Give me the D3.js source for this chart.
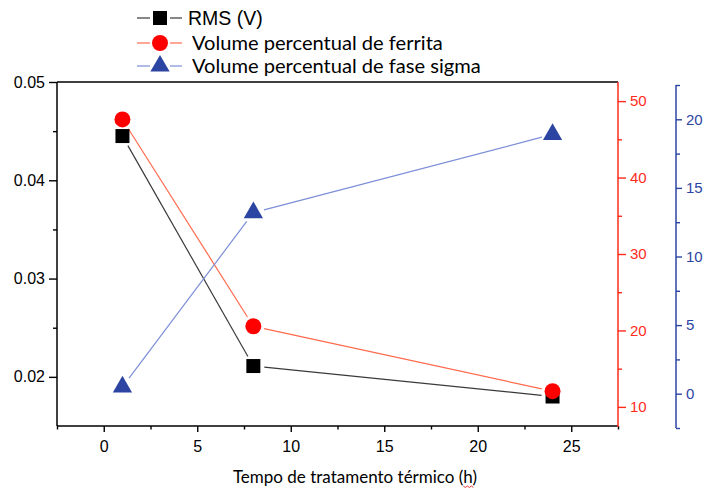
<!DOCTYPE html>
<html>
<head>
<meta charset="utf-8">
<script src="https://cdn.jsdelivr.net/npm/d3@7"></script>
<style>
  html, body { margin: 0; padding: 0; background: #fff; }
  svg { display: block; }
</style>
</head>
<body>
<svg id="chart" width="709" height="489"></svg>
<script>
// Heat-treatment time (h)
const hours = [1, 8, 24];
// RMS signal (V) - left axis
const rms = [0.0445, 0.0211, 0.0180];
// Ferrite volume fraction (%) - first right axis
const ferrite = [47.6, 20.55, 12.05];
// Sigma phase volume fraction (%) - second right axis
const sigma = [0.5, 13.2, 18.9];

const xTicks = [0, 5, 10, 15, 20, 25];
const rmsTicks = [0.02, 0.03, 0.04, 0.05];
const ferriteTicks = [10, 20, 30, 40, 50];
const sigmaTicks = [0, 5, 10, 15, 20];

const legendLabels = ["RMS (V)", "Volume percentual de ferrita", "Volume percentual de fase sigma"];
const xTitle = "Tempo de tratamento térmico (h)";

(function draw() {
  const svg = d3.select("#chart");
  const pL = 57, pR = 618, pT = 82, pB = 426;

  const x = d3.scaleLinear().domain([-2.5, 27.5]).range([pL, pR]);
  const yRms = d3.scaleLinear().domain([0.015, 0.05]).range([pB, pT]);
  const yFer = d3.scaleLinear().domain([7.5, 52.5]).range([pB, pT]);
  const ySig = d3.scaleLinear().domain([-2.5, 22.5]).range([428, 85]);

  const BLACK = "#000", RED = "#ff2b1c", BLUE = "#2c45a3";
  const RED_LINE = "#ff6a4d", BLUE_LINE = "#7c8ed8", BLACK_LINE = "#3a3a3a";
  const tickFont = "Liberation Sans, Arial, sans-serif";

  function styleAxis(g, color, fontSize) {
    g.select(".domain").remove();
    g.selectAll(".tick line").attr("stroke", color).attr("stroke-width", 1.4);
    g.selectAll(".tick text").attr("fill", color)
      .style("font-family", tickFont).style("font-size", fontSize + "px");
  }

  // Frame: top, left and bottom in black
  svg.append("line").attr("x1", pL).attr("x2", pR).attr("y1", pT).attr("y2", pT)
    .attr("stroke", BLACK).attr("stroke-width", 1.5);
  svg.append("line").attr("x1", pL).attr("x2", pL).attr("y1", pT).attr("y2", pB)
    .attr("stroke", BLACK).attr("stroke-width", 1.5);
  svg.append("line").attr("x1", pL).attr("x2", pR).attr("y1", pB).attr("y2", pB)
    .attr("stroke", BLACK).attr("stroke-width", 1.5);

  // X axis
  const xMinor = d3.range(-2.5, 27.6, 2.5).filter(v => !xTicks.includes(v));
  svg.append("g").attr("transform", `translate(0,${pB})`)
    .call(d3.axisBottom(x).tickValues(xMinor).tickSize(3.5).tickFormat(""))
    .call(g => styleAxis(g, BLACK, 16));
  svg.append("g").attr("transform", `translate(0,${pB})`)
    .call(d3.axisBottom(x).tickValues(xTicks).tickSize(6).tickPadding(9).tickFormat(d3.format("d")))
    .call(g => styleAxis(g, BLACK, 16));

  // Left axis (RMS)
  svg.append("g").attr("transform", `translate(${pL},0)`)
    .call(d3.axisLeft(yRms).tickValues([0.025, 0.035, 0.045]).tickSize(4).tickFormat(""))
    .call(g => styleAxis(g, BLACK, 16));
  svg.append("g").attr("transform", `translate(${pL},0)`)
    .call(d3.axisLeft(yRms).tickValues(rmsTicks).tickSize(8).tickPadding(4).tickFormat(d3.format(".2f")))
    .call(g => styleAxis(g, BLACK, 16));

  // Right axis (ferrite)
  svg.append("line").attr("x1", pR).attr("x2", pR).attr("y1", pT).attr("y2", pB + 1)
    .attr("stroke", RED).attr("stroke-width", 1.5);
  svg.append("g").attr("transform", `translate(${pR},0)`)
    .call(d3.axisRight(yFer).tickValues([15, 25, 35, 45]).tickSize(4).tickFormat(""))
    .call(g => styleAxis(g, RED, 15));
  svg.append("g").attr("transform", `translate(${pR},0)`)
    .call(d3.axisRight(yFer).tickValues(ferriteTicks).tickSize(8).tickPadding(4).tickFormat(d3.format("d")))
    .call(g => styleAxis(g, RED, 15));

  // Offset right axis (sigma)
  const sigX = 676;
  svg.append("line").attr("x1", sigX).attr("x2", sigX).attr("y1", ySig.range()[1]).attr("y2", ySig.range()[0])
    .attr("stroke", BLUE).attr("stroke-width", 1.5);
  svg.append("g").attr("transform", `translate(${sigX},0)`)
    .call(d3.axisRight(ySig).tickValues([-2.5, 2.5, 7.5, 12.5, 17.5, 22.5]).tickSize(4).tickFormat(""))
    .call(g => styleAxis(g, BLUE, 15));
  svg.append("g").attr("transform", `translate(${sigX},0)`)
    .call(d3.axisRight(ySig).tickValues(sigmaTicks).tickSize(6).tickPadding(4).tickFormat(d3.format("d")))
    .call(g => styleAxis(g, BLUE, 15));

  // Series lines with a gap around each symbol
  function gappedSegments(pts, gap) {
    const segs = [];
    for (let i = 0; i < pts.length - 1; i++) {
      const [x1, y1] = pts[i], [x2, y2] = pts[i + 1];
      const dx = x2 - x1, dy = y2 - y1, len = Math.hypot(dx, dy);
      const ux = dx / len, uy = dy / len;
      segs.push([[x1 + ux * gap, y1 + uy * gap], [x2 - ux * gap, y2 - uy * gap]]);
    }
    return segs;
  }

  const series = [
    { vals: rms, y: yRms, line: BLACK_LINE, fill: BLACK, sym: d3.symbolSquare, size: 196 },
    { vals: ferrite, y: yFer, line: RED_LINE, fill: "#ff0000", sym: d3.symbolCircle, size: 200 },
    { vals: sigma, y: ySig, line: BLUE_LINE, fill: BLUE, sym: d3.symbolTriangle, size: 160 }
  ];

  const lineGen = d3.line();
  series.forEach(s => {
    const pts = hours.map((h, i) => [x(h), s.y(s.vals[i])]);
    gappedSegments(pts, 11).forEach(seg => {
      svg.append("path").attr("d", lineGen(seg)).attr("fill", "none")
        .attr("stroke", s.line).attr("stroke-width", 1.2);
    });
  });
  series.forEach(s => {
    hours.forEach((h, i) => {
      svg.append("path")
        .attr("d", d3.symbol(s.sym, s.size)())
        .attr("transform", `translate(${x(h)},${s.y(s.vals[i])})`)
        .attr("fill", s.fill);
    });
  });

  // Legend
  const legendRows = [
    { y: 18, fontFamily: tickFont, fontSize: 19.5, tx: 188, base: 25 },
    { y: 43, fontFamily: "Lato, sans-serif", fontSize: 20.1, tx: 192, base: 50 },
    { y: 66, fontFamily: "Lato, sans-serif", fontSize: 20.1, tx: 192, base: 72.5 }
  ];
  legendRows.forEach((r, i) => {
    const s = series[i];
    svg.append("line").attr("x1", 137).attr("x2", 150).attr("y1", r.y).attr("y2", r.y)
      .attr("stroke", s.line).attr("stroke-width", 1.2);
    svg.append("line").attr("x1", 170).attr("x2", 182).attr("y1", r.y).attr("y2", r.y)
      .attr("stroke", s.line).attr("stroke-width", 1.2);
    svg.append("path").attr("d", d3.symbol(s.sym, s.size)())
      .attr("transform", `translate(160,${r.y})`).attr("fill", s.fill);
    svg.append("text").attr("x", r.tx).attr("y", r.base)
      .style("font-family", r.fontFamily).style("font-size", r.fontSize + "px")
      .attr("fill", "#000").text(legendLabels[i]);
  });

  // X axis title
  const title = svg.append("text").attr("x", 355).attr("y", 483).attr("text-anchor", "middle")
    .style("font-family", "Lato, sans-serif").style("font-size", "17px")
    .attr("fill", "#000").text(xTitle);

  // Red wavy spell-check underline beneath the "h" in "(h)"
  const node = title.node();
  const hIdx = xTitle.lastIndexOf("h");
  const ext = node.getExtentOfChar(hIdx);
  const wy = 486;
  let d = `M${ext.x},${wy}`;
  for (let wx = ext.x, k = 0; wx < ext.x + ext.width; wx += 2, k++) {
    d += ` L${wx + 2},${wy + (k % 2 === 0 ? 1.5 : 0)}`;
  }
  svg.append("path").attr("d", d).attr("fill", "none")
    .attr("stroke", "#e02020").attr("stroke-width", 0.9);
})();
</script>
</body>
</html>
